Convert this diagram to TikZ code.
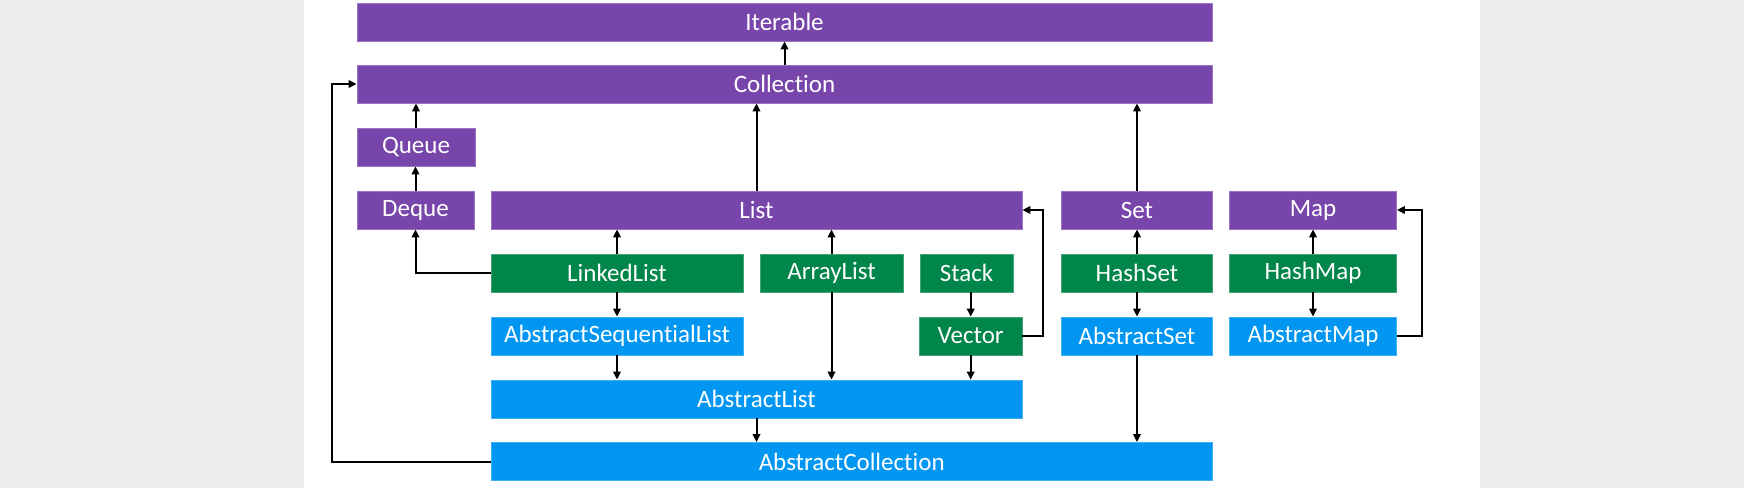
\documentclass[tikz,border=0pt]{standalone}
\usepackage{fontspec}
\setmainfont{Carlito}[Ligatures={NoCommon,NoRare,NoContextual}]
\usetikzlibrary{arrows.meta}
\definecolor{bggray}{HTML}{ECECEC}
\definecolor{ipurple}{HTML}{7846AB}
\definecolor{cgreen}{HTML}{00854A}
\definecolor{ablue}{HTML}{0096F2}
\tikzset{
  box/.style={rectangle, inner sep=0pt, minimum height=38pt, text=white,
    font=\fontsize{25}{30}\selectfont, line width=0.8pt},
  pbox/.style={box, fill=ipurple, draw=ipurple!75!white},
  gbox/.style={box, fill=cgreen, draw=cgreen!75!white},
  bbox/.style={box, fill=ablue, draw=ablue!75!white},
  arr/.style={draw=black, line width=2pt, -{Triangle[length=8pt,width=7.5pt]}},
}
\begin{document}
\begin{tikzpicture}[x=1pt,y=-1pt]
\fill[bggray] (0,0) rectangle (1744,488);
\fill[white] (304,0) rectangle (1480,488);
\useasboundingbox (0,0) rectangle (1744,488);

% interfaces
\node[pbox, minimum width=855pt] (iter) at (784.5,22) {Iterable};
\node[pbox, minimum width=855pt] (coll) at (784.5,84) {Collection};
\node[pbox, minimum width=118pt] (queue) at (416,147) {Queue};
\node[pbox, minimum width=117pt] (deque) at (415.5,210) {Deque};
\node[pbox, minimum width=531pt] (list) at (756.5,210) {List};
\node[pbox, minimum width=151pt] (set) at (1137,210) {Set};
\node[pbox, minimum width=167pt] (map) at (1313,210) {Map};

% concrete classes
\node[gbox, minimum width=252pt] (ll) at (617,273) {LinkedList};
\node[gbox, minimum width=143pt] (arl) at (831.5,273) {ArrayList};
\node[gbox, minimum width=93pt] (stack) at (966.5,273) {Stack};
\node[gbox, minimum width=151pt] (hs) at (1137,273) {HashSet};
\node[gbox, minimum width=167pt] (hm) at (1313,273) {HashMap};
\node[gbox, minimum width=102.5pt] (vec) at (970.7,336) {Vector};

% abstract classes
\node[bbox, minimum width=252pt] (asl) at (617,336) {AbstractSequentialList};
\node[bbox, minimum width=151pt] (aset) at (1137,336) {AbstractSet};
\node[bbox, minimum width=167pt] (amap) at (1313,336) {AbstractMap};
\node[bbox, minimum width=531pt] (al) at (756.5,399) {AbstractList};
\node[bbox, minimum width=721.5pt] (ac) at (851.7,461.5) {AbstractCollection};

% connectors
\draw[arr] (coll.north) -- (iter.south);
\draw[arr] (queue.north) -- (queue.north |- coll.south);
\draw[arr] (deque.north) -- (deque.north |- queue.south);
\draw[arr] (list.north) -- (list.north |- coll.south);
\draw[arr] (set.north) -- (set.north |- coll.south);
\draw[arr] (ll.west) -| (deque.south);
\draw[arr] (ll.north) -- (ll.north |- list.south);
\draw[arr] (ll.south) -- (asl.north);
\draw[arr] (asl.south) -- (asl.south |- al.north);
\draw[arr] (arl.north) -- (arl.north |- list.south);
\draw[arr] (arl.south) -- (arl.south |- al.north);
\draw[arr] (vec.north |- stack.south) -- (vec.north);
\draw[arr] (vec.east) -- ++(21,0) |- (list.east);
\draw[arr] (vec.south) -- (vec.south |- al.north);
\draw[arr] (al.south) -- (al.south |- ac.north);
\draw[arr] (ac.west) -- ++(-159,0) |- (coll.west);
\draw[arr] (hs.north) -- (set.south);
\draw[arr] (hs.south) -- (aset.north);
\draw[arr] (aset.south) -- (aset.south |- ac.north);
\draw[arr] (hm.north) -- (map.south);
\draw[arr] (hm.south) -- (amap.north);
\draw[arr] (amap.east) -- ++(25,0) |- (map.east);
\end{tikzpicture}
\end{document}
